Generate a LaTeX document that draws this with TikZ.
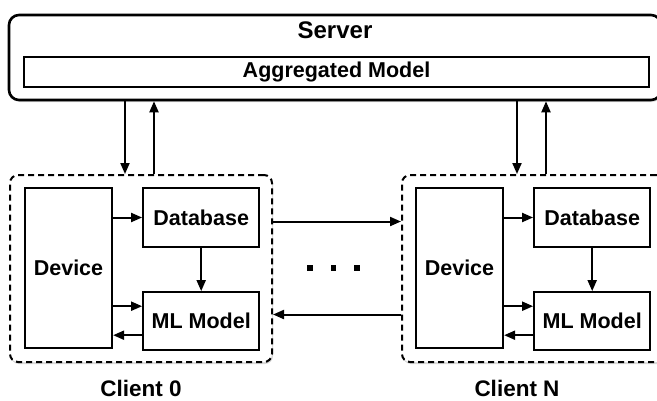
\documentclass[tikz,border=0pt]{standalone}
\usepackage{fontspec}
\setmainfont{Liberation Sans}
\usetikzlibrary{arrows.meta,positioning,shadows}

\begin{document}
\begin{tikzpicture}[
    x=1pt, y=-1pt,
    font=\fontsize{21.5}{25}\selectfont\bfseries,
    server/.style={draw, line width=2.6pt, rounded corners=10pt, fill=white,
                   minimum width=652pt, minimum height=85pt,
                   drop shadow={shadow xshift=1pt, shadow yshift=-2pt, opacity=0.3}},
    client/.style={draw, line width=2pt, dash pattern=on 6pt off 4pt, rounded corners=8pt,
                   fill=white, minimum width=262pt, minimum height=187pt,
                   drop shadow={shadow xshift=1pt, shadow yshift=-2pt, opacity=0.3}},
    box/.style={draw, line width=2.2pt, align=center, inner sep=0pt},
    arrow/.style={-{Triangle[length=11pt,width=9pt]}, line width=2pt},
    dot/.style={fill=black, minimum size=5.5pt, inner sep=0pt},
    caption/.style={inner sep=0pt, font=\fontsize{22.5}{26}\selectfont\bfseries}
]
    \clip (0,0) rectangle (657,400);

    % server side
    \node[server] (server) at (335,57.5) {};
    \node (servertitle) at (335,30) {\fontsize{24}{28}\selectfont Server};
    \node[box, minimum width=625pt, minimum height=30pt] (aggmodel) at (336.5,72)
        {Aggregated Model};

    % client 0
    \node[client] (client0) at (141,268.5) {};
    \node[box, minimum width=87pt, minimum height=160pt] (dev0) at (68.5,268) {Device};
    \node[box, minimum width=116pt, minimum height=59pt, anchor=north west]
        (db0) at ([xshift=29pt]dev0.north east) {Database};
    \node[box, minimum width=116pt, minimum height=58pt, below=43pt of db0] (ml0) {ML Model};
    \node[caption, below=17pt of client0] (label0) {Client 0};

    % client N
    \node[client] (clientN) at (533,268.5) {};
    \node[box, minimum width=87pt, minimum height=160pt] (devN) at (459.5,268) {Device};
    \node[box, minimum width=116pt, minimum height=59pt, anchor=north west]
        (dbN) at ([xshift=29pt]devN.north east) {Database};
    \node[box, minimum width=116pt, minimum height=58pt, below=43pt of dbN] (mlN) {ML Model};
    \node[caption, below=17pt of clientN, xshift=-16pt] (labelN) {Client N};

    % the dots between the clients
    \node[dot] (dot1) at (310,268) {};
    \node[dot, right=17.5pt of dot1] (dot2) {};
    \node[dot, right=17.5pt of dot2] (dot3) {};

    % server <-> clients
    \foreach \c in {0,N}{
        \draw[arrow] ([xshift=116pt]client\c.north west |- server.south) -- ([xshift=116pt]client\c.north west);
        \draw[arrow] ([xshift=145pt]client\c.north west) -- ([xshift=145pt]client\c.north west |- server.south);
    }

    % inside the clients
    \foreach \c in {0,N}{
        \draw[arrow] (dev\c.east |- db\c.west) -- (db\c.west);
        \draw[arrow] (db\c) -- (ml\c);
        \draw[arrow] ([yshift=15pt]ml\c.west -| dev\c.east) -- ([yshift=15pt]ml\c.west);
        \draw[arrow] ([yshift=-14pt]ml\c.west) -- ([yshift=-14pt]ml\c.west -| dev\c.east);
    }

    % client to client
    \draw[arrow] ([yshift=47pt]client0.east) -- ([yshift=47pt]clientN.west);
    \draw[arrow] ([yshift=-46pt]clientN.west) -- ([yshift=-46pt]client0.east);
\end{tikzpicture}
\end{document}
